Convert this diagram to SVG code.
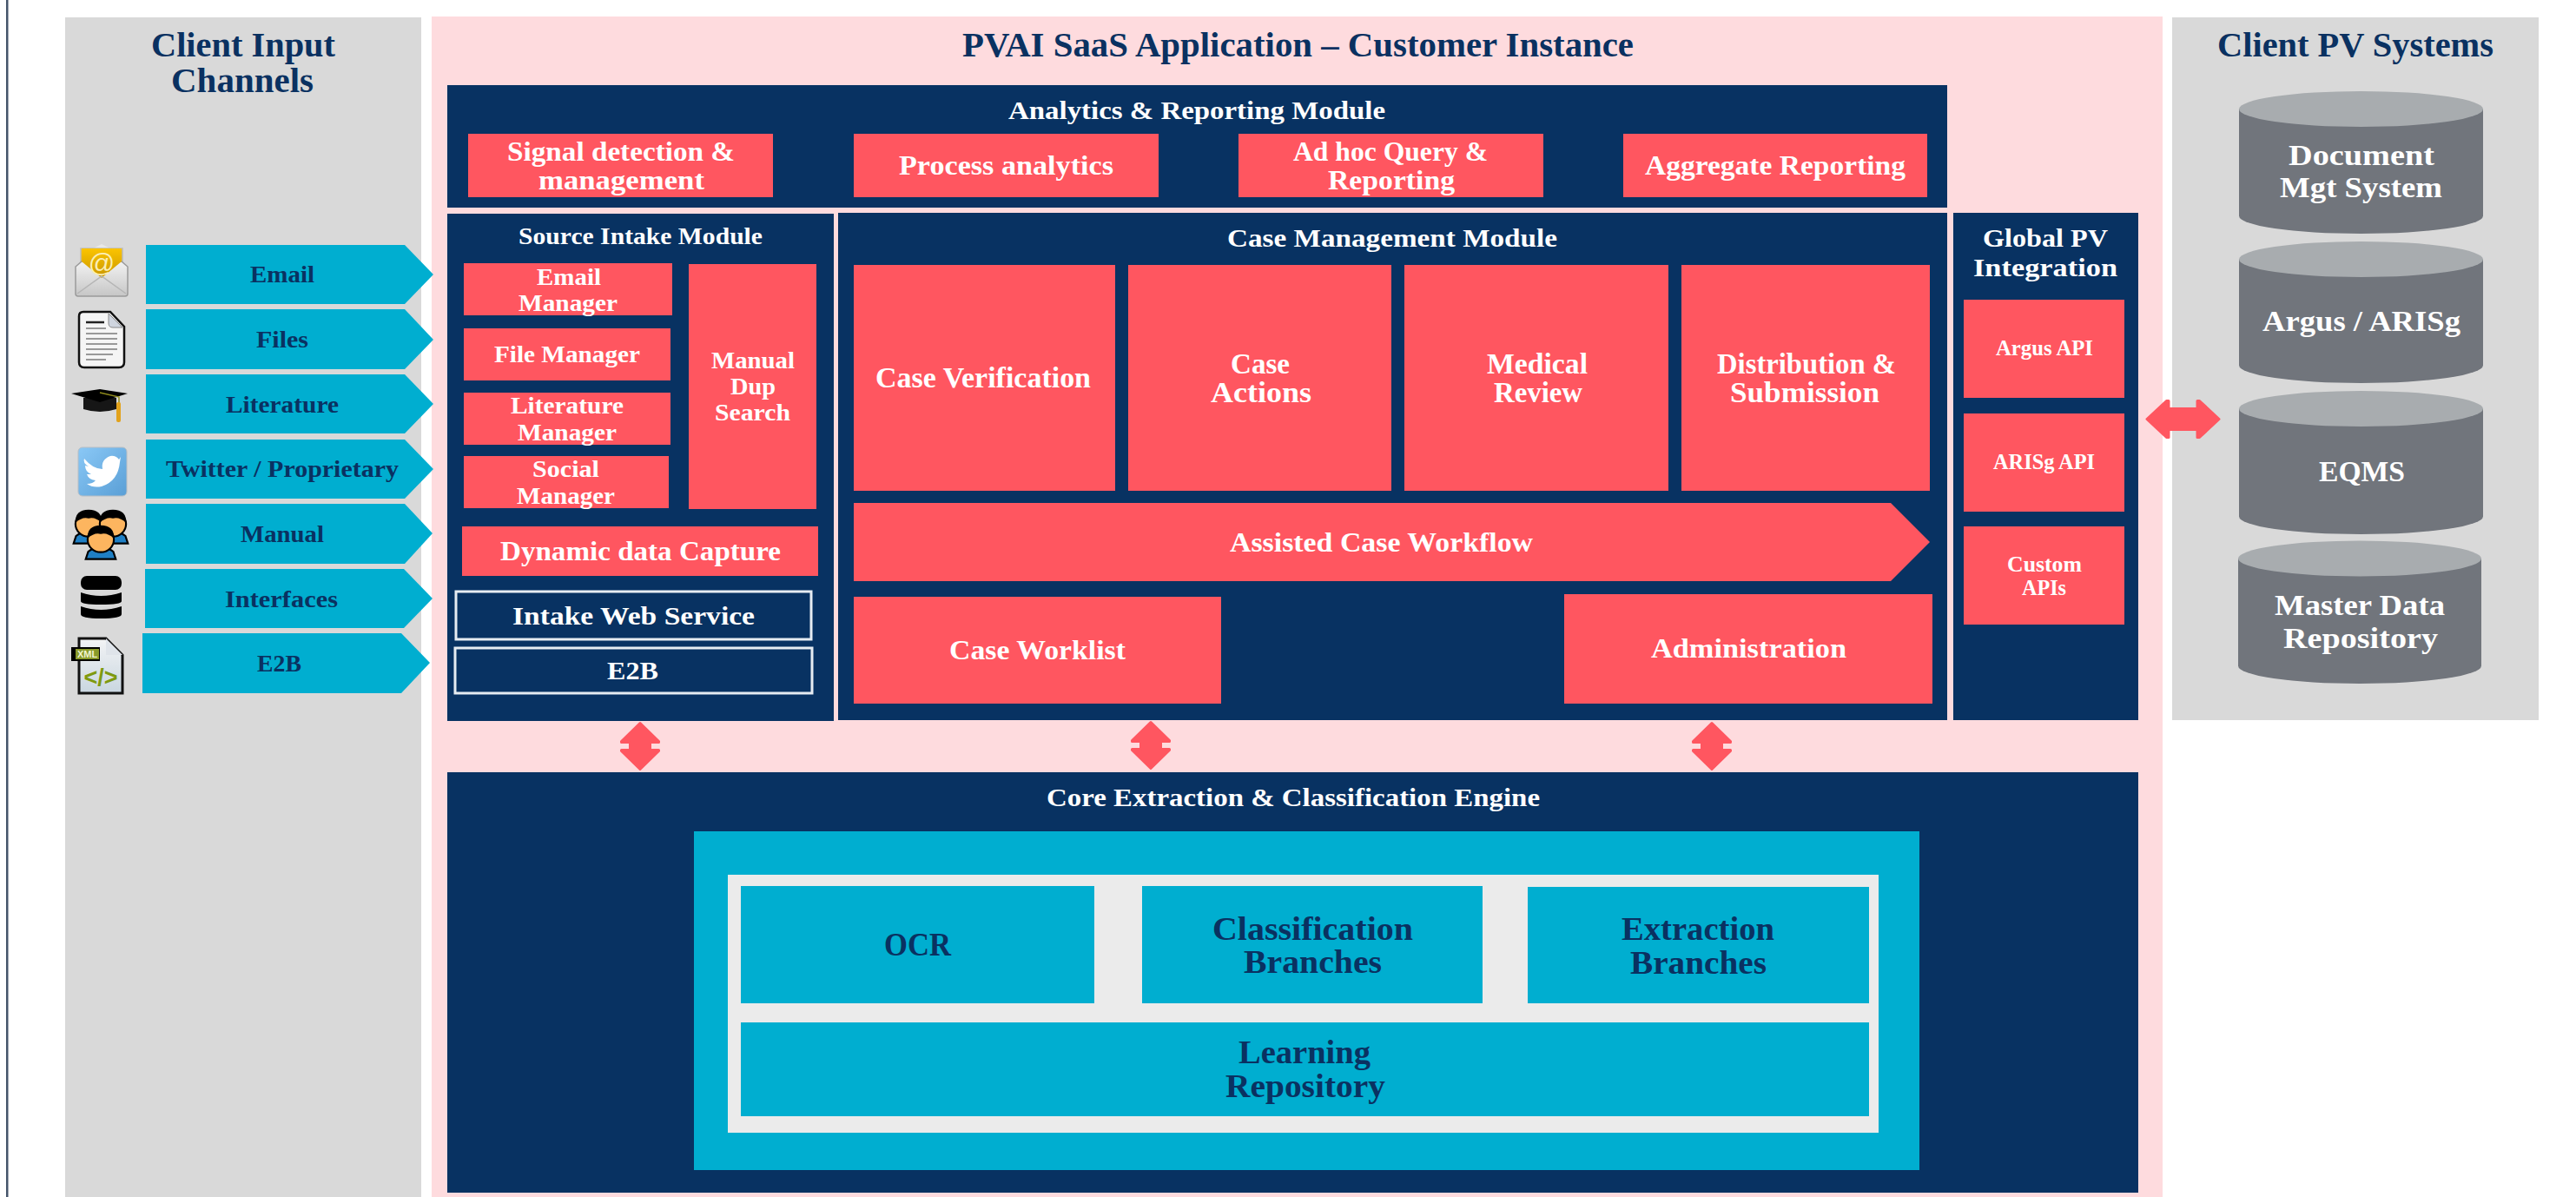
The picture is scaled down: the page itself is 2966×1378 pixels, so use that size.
<svg xmlns="http://www.w3.org/2000/svg" width="2966" height="1378" viewBox="0 0 2966 1378">
<defs>
<style>
text{font-family:"Liberation Serif","DejaVu Serif",serif;font-weight:700}
.w{fill:#ffffff}.n{fill:#0a3161}
.navy{fill:#083262}.red{fill:#ff5660}.teal{fill:#00aed0}.grey{fill:#d9d9d9}
.body{fill:#71757c}.top{fill:#a8acaf}
.box{fill:#083262;stroke:#e6ecf2;stroke-width:3}
.s38{font-size:39px}.s33{font-size:34px}.s31{font-size:32px}.s30{font-size:30px}.s27{font-size:27px}.s24{font-size:25px}.s36{font-size:37px}
.dbl{fill:#ff5660;stroke:#ff5660;stroke-width:3;stroke-linejoin:round}
</style>
<linearGradient id="gEnv" x1="0" y1="0" x2="0" y2="1"><stop offset="0" stop-color="#f2f2f2"/><stop offset="1" stop-color="#c6c6c6"/></linearGradient>
<linearGradient id="gYel" x1="0" y1="0" x2="0" y2="1"><stop offset="0" stop-color="#fbc400"/><stop offset="1" stop-color="#c99600"/></linearGradient>
<linearGradient id="gTw" x1="0" y1="0" x2="1" y2="1"><stop offset="0" stop-color="#8ac8f6"/><stop offset="1" stop-color="#5a9fd6"/></linearGradient>
<linearGradient id="gXml" x1="0" y1="0" x2="0" y2="1"><stop offset="0" stop-color="#f3f4f5"/><stop offset="1" stop-color="#c9d6e0"/></linearGradient>
<g id="person">
<path d="M-24 30 L-20 18 Q-14 13 -8 13 L8 13 Q14 13 20 18 L24 30 Z" fill="#1f7fc4" stroke="#000" stroke-width="3"/>
<ellipse cx="0" cy="-1" rx="21" ry="20" fill="#fdb55f" stroke="#000" stroke-width="3"/>
<path d="M-21 -3 Q-22 -24 0 -24 Q22 -24 21 -3 Q10 -13 0 -10 Q-10 -13 -21 -3 Z" fill="#000"/>
</g>
</defs>
<rect width="2966" height="1378" fill="#ffffff"/>
<rect x="7" y="0" width="2.5" height="1378" fill="#44546a"/>

<g id="client-input-panel">
<rect class="grey" x="75" y="20" width="410" height="1358"/>
<text class="n s38" x="174" y="65" textLength="212" lengthAdjust="spacingAndGlyphs">Client Input</text>
<text class="n s38" x="197" y="106" textLength="164" lengthAdjust="spacingAndGlyphs">Channels</text>
</g>
<g id="pvai-panel">
<rect x="497" y="19" width="1993" height="1359" fill="#fedbde"/>
<text class="n s38" x="1108" y="65" textLength="773" lengthAdjust="spacingAndGlyphs">PVAI SaaS Application – Customer Instance</text>
</g>
<g id="client-pv-panel">
<rect class="grey" x="2501" y="20" width="422" height="809"/>
<text class="n s38" x="2553" y="65" textLength="318" lengthAdjust="spacingAndGlyphs">Client PV Systems</text>
</g>

<g id="channel-email">
<path class="teal" d="M168 282H466L499 316L466 350H168Z"/>
<text class="n s27" x="288" y="325" textLength="74" lengthAdjust="spacingAndGlyphs">Email</text>
<path d="M117 281L131 288V310H103V288Z" fill="#e8e8e8"/>
<rect x="93" y="286" width="48" height="34" fill="url(#gYel)" stroke="#bbb" stroke-width="1.5"/>
<path d="M87 307L94 301H140L147 307V338Q147 341 144 341H90Q87 341 87 338Z" fill="url(#gEnv)" stroke="#9a9a9a" stroke-width="1.5"/>
<path d="M94 301L117 320L140 301V286H94Z" fill="url(#gYel)"/>
<path d="M89 338L117 318L145 338" fill="none" stroke="#b5b5b5" stroke-width="1.5"/>
<text x="117" y="313" font-size="30" text-anchor="middle" style="font-weight:400;font-family:'Liberation Sans',sans-serif" fill="#fbeeb5">@</text>
</g>
<g id="channel-files">
<path class="teal" d="M168 356H466L499 391L466 425H168Z"/>
<text class="n s27" x="295" y="400" textLength="60" lengthAdjust="spacingAndGlyphs">Files</text>
<path d="M96 359H127L143 376V417Q143 423 137 423H97Q91 423 91 417V364Q91 359 96 359Z" fill="#f5f5f5" stroke="#111" stroke-width="2.500"/>
<path d="M125 361V372Q125 377 130 377H141Z" fill="#cfd5df" stroke="#888" stroke-width="1"/>
<path d="M99 378H122M99 384H135M99 390H135M99 396H135M99 402H135M99 408H130M99 414H122" stroke="#999" stroke-width="2" fill="none"/>
<path d="M99 371H120" stroke="#222" stroke-width="2.500"/>
</g>
<g id="channel-literature">
<path class="teal" d="M168 431H466L499 465L466 499H168Z"/>
<text class="n s27" x="260" y="475" textLength="130" lengthAdjust="spacingAndGlyphs">Literature</text>
<path d="M96 458V471Q115 477 134 471V458Z" fill="#161616"/>
<path d="M82 453L115 448L147 453L115 463Z" fill="#000"/>
<path d="M115 452L137 457V470" fill="none" stroke="#8e8a1c" stroke-width="1.500"/>
<rect x="134" y="463" width="5" height="23" rx="2" fill="#e2a21c"/>
</g>
<g id="channel-twitter">
<path class="teal" d="M168 506H466L499 540L466 574H168Z"/>
<text class="n s27" x="191" y="549" textLength="268" lengthAdjust="spacingAndGlyphs">Twitter / Proprietary</text>
<rect x="90" y="515" width="56" height="56" rx="5" fill="url(#gTw)" stroke="#b8bec4" stroke-width="1"/>
<path d="M97 528Q107 540 118 540Q116 529 127 525Q133 524 137 529L139 526L138 532Q136 554 117 560Q107 562 100 557Q107 557 110 553Q102 552 100 546L105 546Q98 543 98 536L102 537Q95 533 97 528Z" fill="#ffffff"/>
</g>
<g id="channel-manual">
<path class="teal" d="M168 580H466L498 614L466 649H168Z"/>
<text class="n s27" x="277" y="624" textLength="96" lengthAdjust="spacingAndGlyphs">Manual</text>
<use href="#person" transform="translate(102 604) scale(.72)"/>
<use href="#person" transform="translate(130 604) scale(.72)"/>
<use href="#person" transform="translate(116 622) scale(.72)"/>
</g>
<g id="channel-interfaces">
<path class="teal" d="M167 655H465L498 689L465 723H167Z"/>
<text class="n s27" x="259" y="699" textLength="130" lengthAdjust="spacingAndGlyphs">Interfaces</text>
<rect x="93" y="663" width="47" height="16" rx="7" fill="#000"/>
<path d="M93 682Q116 690 140 682V692Q140 696 116 696Q93 696 93 692Z" fill="#000"/>
<path d="M93 698Q116 706 140 698V707Q140 712 116 712Q93 712 93 707Z" fill="#000"/>
</g>
<g id="channel-e2b">
<path class="teal" d="M164 729H462L495 763L462 798H164Z"/>
<text class="n s27" x="296" y="773" textLength="51" lengthAdjust="spacingAndGlyphs">E2B</text>
<path d="M91 735H122L141 754V798H91Z" fill="url(#gXml)" stroke="#111" stroke-width="3"/>
<path d="M122 735V754H141Z" fill="#dfe4ea"/>
<rect x="82" y="745" width="33" height="16" fill="#000"/>
<rect x="87" y="747" width="27" height="12" fill="#8a9a2a"/>
<text x="100.500" y="757" font-size="11" text-anchor="middle" fill="#f0f3d0" style="font-family:'Liberation Sans',sans-serif">XML</text>
<text x="116" y="789" font-size="27" text-anchor="middle" fill="#7f9a10" style="font-family:'Liberation Sans',sans-serif">&lt;/&gt;</text>
</g>

<g id="analytics-module">
<rect class="navy" x="515" y="98" width="1727" height="141"/>
<text class="w s30" x="1161" y="137" textLength="434" lengthAdjust="spacingAndGlyphs">Analytics &amp; Reporting Module</text>
<g id="signal-detection"><rect class="red" x="539" y="154" width="351" height="73"/>
<text class="w s31" x="584" y="185" textLength="262" lengthAdjust="spacingAndGlyphs">Signal detection &amp;</text>
<text class="w s31" x="620" y="218" textLength="191" lengthAdjust="spacingAndGlyphs">management</text></g>
<g id="process-analytics"><rect class="red" x="983" y="154" width="351" height="73"/>
<text class="w s31" x="1035" y="201" textLength="247" lengthAdjust="spacingAndGlyphs">Process analytics</text></g>
<g id="adhoc-query"><rect class="red" x="1426" y="154" width="351" height="73"/>
<text class="w s31" x="1489" y="185" textLength="224" lengthAdjust="spacingAndGlyphs">Ad hoc Query &amp;</text>
<text class="w s31" x="1529" y="218" textLength="146" lengthAdjust="spacingAndGlyphs">Reporting</text></g>
<g id="aggregate-reporting"><rect class="red" x="1869" y="154" width="350" height="73"/>
<text class="w s31" x="1894" y="201" textLength="300" lengthAdjust="spacingAndGlyphs">Aggregate Reporting</text></g>
</g>

<g id="source-intake-module">
<rect class="navy" x="515" y="246" width="445" height="584"/>
<text class="w s27" x="597" y="281" textLength="281" lengthAdjust="spacingAndGlyphs">Source Intake Module</text>
<g id="email-manager"><rect class="red" x="534" y="303" width="240" height="60"/>
<text class="w s27" x="618" y="328" textLength="74" lengthAdjust="spacingAndGlyphs">Email</text>
<text class="w s27" x="597" y="358" textLength="114" lengthAdjust="spacingAndGlyphs">Manager</text></g>
<g id="file-manager"><rect class="red" x="534" y="378" width="238" height="60"/>
<text class="w s27" x="569" y="417" textLength="168" lengthAdjust="spacingAndGlyphs">File Manager</text></g>
<g id="literature-manager"><rect class="red" x="534" y="452" width="238" height="60"/>
<text class="w s27" x="588" y="476" textLength="130" lengthAdjust="spacingAndGlyphs">Literature</text>
<text class="w s27" x="596" y="507" textLength="114" lengthAdjust="spacingAndGlyphs">Manager</text></g>
<g id="social-manager"><rect class="red" x="534" y="525" width="236" height="60"/>
<text class="w s27" x="613" y="549" textLength="77" lengthAdjust="spacingAndGlyphs">Social</text>
<text class="w s27" x="595" y="580" textLength="113" lengthAdjust="spacingAndGlyphs">Manager</text></g>
<g id="manual-dup-search"><rect class="red" x="793" y="304" width="147" height="282"/>
<text class="w s27" x="819" y="424" textLength="96" lengthAdjust="spacingAndGlyphs">Manual</text>
<text class="w s27" x="841" y="454" textLength="52" lengthAdjust="spacingAndGlyphs">Dup</text>
<text class="w s27" x="823" y="484" textLength="87" lengthAdjust="spacingAndGlyphs">Search</text></g>
<g id="dynamic-data-capture"><rect class="red" x="532" y="606" width="410" height="57"/>
<text class="w s31" x="576" y="645" textLength="323" lengthAdjust="spacingAndGlyphs">Dynamic data Capture</text></g>
<g id="intake-web-service"><rect class="box" x="525" y="681" width="409" height="55"/>
<text class="w s30" x="590" y="719" textLength="279" lengthAdjust="spacingAndGlyphs">Intake Web Service</text></g>
<g id="e2b-service"><rect class="box" x="524" y="746" width="411" height="52"/>
<text class="w s30" x="699" y="782" textLength="59" lengthAdjust="spacingAndGlyphs">E2B</text></g>
</g>

<g id="case-management-module">
<rect class="navy" x="965" y="245" width="1277" height="584"/>
<text class="w s30" x="1413" y="284" textLength="380" lengthAdjust="spacingAndGlyphs">Case Management Module</text>
<g id="case-verification"><rect class="red" x="983" y="305" width="301" height="260"/>
<text class="w s33" x="1008" y="446" textLength="248" lengthAdjust="spacingAndGlyphs">Case Verification</text></g>
<g id="case-actions"><rect class="red" x="1299" y="305" width="303" height="260"/>
<text class="w s33" x="1417" y="430" textLength="68" lengthAdjust="spacingAndGlyphs">Case</text>
<text class="w s33" x="1394" y="463" textLength="116" lengthAdjust="spacingAndGlyphs">Actions</text></g>
<g id="medical-review"><rect class="red" x="1617" y="305" width="304" height="260"/>
<text class="w s33" x="1712" y="430" textLength="116" lengthAdjust="spacingAndGlyphs">Medical</text>
<text class="w s33" x="1720" y="463" textLength="102" lengthAdjust="spacingAndGlyphs">Review</text></g>
<g id="distribution-submission"><rect class="red" x="1936" y="305" width="286" height="260"/>
<text class="w s33" x="1977" y="430" textLength="206" lengthAdjust="spacingAndGlyphs">Distribution &amp;</text>
<text class="w s33" x="1992" y="463" textLength="172" lengthAdjust="spacingAndGlyphs">Submission</text></g>
<g id="assisted-case-workflow"><path class="red" d="M983 579H2177L2222 624L2177 669H983Z"/>
<text class="w s31" x="1416" y="635" textLength="349" lengthAdjust="spacingAndGlyphs">Assisted Case Workflow</text></g>
<g id="case-worklist"><rect class="red" x="983" y="687" width="423" height="123"/>
<text class="w s31" x="1093" y="759" textLength="203" lengthAdjust="spacingAndGlyphs">Case Worklist</text></g>
<g id="administration"><rect class="red" x="1801" y="684" width="424" height="126"/>
<text class="w s31" x="1901" y="757" textLength="225" lengthAdjust="spacingAndGlyphs">Administration</text></g>
</g>

<g id="global-pv-integration">
<rect class="navy" x="2249" y="245" width="213" height="584"/>
<text class="w s30" x="2283" y="284" textLength="144" lengthAdjust="spacingAndGlyphs">Global PV</text>
<text class="w s30" x="2272" y="318" textLength="166" lengthAdjust="spacingAndGlyphs">Integration</text>
<g id="argus-api"><rect class="red" x="2261" y="345" width="185" height="113"/>
<text class="w s24" x="2298" y="409" textLength="112" lengthAdjust="spacingAndGlyphs">Argus API</text></g>
<g id="arisg-api"><rect class="red" x="2261" y="476" width="185" height="113"/>
<text class="w s24" x="2295" y="540" textLength="117" lengthAdjust="spacingAndGlyphs">ARISg API</text></g>
<g id="custom-apis"><rect class="red" x="2261" y="606" width="185" height="113"/>
<text class="w s24" x="2311" y="658" textLength="86" lengthAdjust="spacingAndGlyphs">Custom</text>
<text class="w s24" x="2328" y="685" textLength="51" lengthAdjust="spacingAndGlyphs">APIs</text></g>
</g>

<g id="cyl-document">
<path class="body" d="M2578 125.500V248.500A140.500 20.500 0 0 0 2859 248.500V125.500Z"/>
<ellipse class="top" cx="2718.500" cy="125.500" rx="140.500" ry="20.500"/>
<text class="w s33" x="2635" y="190" textLength="168" lengthAdjust="spacingAndGlyphs">Document</text>
<text class="w s33" x="2625" y="227" textLength="187" lengthAdjust="spacingAndGlyphs">Mgt System</text>
</g>
<g id="cyl-argus">
<path class="body" d="M2578 298.500V420.500A140.500 20.500 0 0 0 2859 420.500V298.500Z"/>
<ellipse class="top" cx="2718.500" cy="298.500" rx="140.500" ry="20.500"/>
<text class="w s33" x="2605" y="381" textLength="228" lengthAdjust="spacingAndGlyphs">Argus / ARISg</text>
</g>
<g id="cyl-eqms">
<path class="body" d="M2578 470.500V594.500A140.500 20.500 0 0 0 2859 594.500V470.500Z"/>
<ellipse class="top" cx="2718.500" cy="470.500" rx="140.500" ry="20.500"/>
<text class="w s33" x="2670" y="554" textLength="99" lengthAdjust="spacingAndGlyphs">EQMS</text>
</g>
<g id="cyl-master">
<path class="body" d="M2577 643V766.500A140 20.500 0 0 0 2857 766.500V643Z"/>
<ellipse class="top" cx="2717" cy="643" rx="140" ry="20.500"/>
<text class="w s33" x="2619" y="708" textLength="196" lengthAdjust="spacingAndGlyphs">Master Data</text>
<text class="w s33" x="2629" y="746" textLength="178" lengthAdjust="spacingAndGlyphs">Repository</text>
</g>

<g id="core-engine">
<rect class="navy" x="515" y="889" width="1947" height="484"/>
<text class="w s30" x="1205" y="928" textLength="568" lengthAdjust="spacingAndGlyphs">Core Extraction &amp; Classification Engine</text>
<rect class="teal" x="799" y="957" width="1411" height="390"/>
<rect x="838" y="1007" width="1325" height="297" fill="#ebebeb"/>
<g id="ocr"><rect class="teal" x="853" y="1020" width="407" height="135"/>
<text class="n s36" x="1018" y="1100" textLength="77" lengthAdjust="spacingAndGlyphs">OCR</text></g>
<g id="classification-branches"><rect class="teal" x="1315" y="1020" width="392" height="135"/>
<text class="n s36" x="1396" y="1082" textLength="231" lengthAdjust="spacingAndGlyphs">Classification</text>
<text class="n s36" x="1432" y="1120" textLength="159" lengthAdjust="spacingAndGlyphs">Branches</text></g>
<g id="extraction-branches"><rect class="teal" x="1759" y="1021" width="393" height="134"/>
<text class="n s36" x="1867" y="1082" textLength="176" lengthAdjust="spacingAndGlyphs">Extraction</text>
<text class="n s36" x="1877" y="1121" textLength="157" lengthAdjust="spacingAndGlyphs">Branches</text></g>
<g id="learning-repository"><rect class="teal" x="853" y="1177" width="1299" height="108"/>
<text class="n s36" x="1426" y="1224" textLength="152" lengthAdjust="spacingAndGlyphs">Learning</text>
<text class="n s36" x="1411" y="1263" textLength="184" lengthAdjust="spacingAndGlyphs">Repository</text></g>
</g>

<g id="connectors">
<path class="dbl" transform="translate(737 1)" d="M0 831.500L21.500 852.500V853.500H11.500V862.500H21.500V863.500L0 884.500L-21.500 863.500V862.500H-11.500V853.500H-21.500V852.500Z"/>
<path class="dbl" transform="translate(1325 0)" d="M0 831.500L21.500 852.500V853.500H11.500V862.500H21.500V863.500L0 884.500L-21.500 863.500V862.500H-11.500V853.500H-21.500V852.500Z"/>
<path class="dbl" transform="translate(1971 1)" d="M0 831.500L21.500 852.500V853.500H11.500V862.500H21.500V863.500L0 884.500L-21.500 863.500V862.500H-11.500V853.500H-21.500V852.500Z"/>
<path class="dbl" d="M2472 482.500L2494.500 461.500H2497V470.500H2530V461.500H2532.500L2555 482.500L2532.500 503.500H2530V494.500H2497V503.500H2494.500Z"/>
</g>
</svg>
